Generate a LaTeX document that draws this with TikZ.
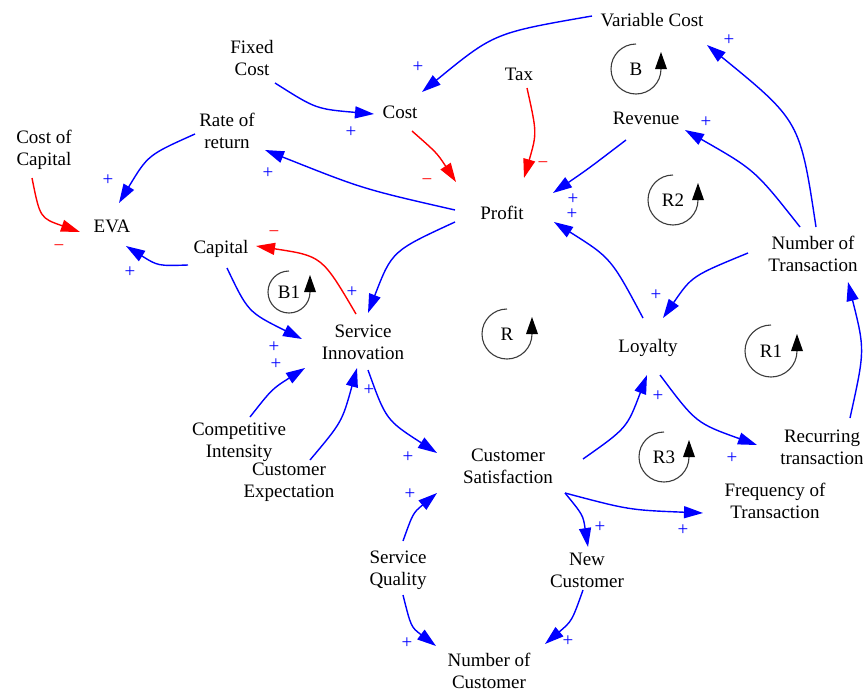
\documentclass[tikz,border=0pt]{standalone}
\usepackage{fontspec}
\setmainfont{Liberation Serif}
\usetikzlibrary{arrows.meta,calc}
\definecolor{lblue}{RGB}{0,0,255}
\definecolor{lred}{RGB}{255,0,0}
\definecolor{loopgray}{RGB}{60,60,60}
\begin{document}
\begin{tikzpicture}[x=1pt,y=-1pt,
  lbl/.style={font=\fontsize{19}{22}\selectfont, align=center, inner sep=0pt},
  plink/.style={draw=lblue, line width=1.4pt, -{Triangle[length=19pt,width=12pt]}},
  nlink/.style={draw=lred, line width=1.4pt, -{Triangle[length=19pt,width=12pt]}},
  psign/.style={text=lblue, font=\fontsize{19}{19}\selectfont, inner sep=0pt},
  nsign/.style={text=lred, font=\fontsize{19}{19}\selectfont, inner sep=0pt},
  loopline/.style={draw=loopgray, line width=1.1pt},
  loophead/.style={fill=black}
]
\useasboundingbox (0,0) rectangle (863,691);

% variables
\node[lbl] (vc) at (652,20) {Variable Cost};
\node[lbl] (fc) at (252,58) {Fixed\\Cost};
\node[lbl] (tax) at (519,74) {Tax};
\node[lbl] (cost) at (400,112) {Cost};
\node[lbl] (rev) at (646,118) {Revenue};
\node[lbl] (ror) at (227,131) {Rate of\\return};
\node[lbl] (coc) at (44,150) {Cost of\\Capital};
\node[lbl] (profit) at (502,213) {Profit};
\node[lbl] (eva) at (112,226) {EVA};
\node[lbl] (cap) at (221,249) {Capital};
\node[lbl] (nt) at (813,254) {Number of\\Transaction};
\node[lbl] (si) at (363,342) {Service\\Innovation};
\node[lbl] (loy) at (648,348) {Loyalty};
\node[lbl] (rt) at (822,447) {Recurring\\transaction};
\node[lbl] (cs) at (508,466) {Customer\\Satisfaction};
\node[lbl] (ft) at (775,501) {Frequency of\\Transaction};
\node[lbl] (ci) at (239,442) {Competitive\\Intensity};
\node[lbl] (ce) at (289,482) {Customer\\Expectation};
\node[lbl] (sq) at (398,570) {Service\\Quality};
\node[lbl] (nc) at (587,570) {New\\Customer};
\node[lbl] (noc) at (489,671) {Number of\\Customer};

% loop markers
\node[lbl] (lB) at (636,69) {B};
\node[lbl] (lR2) at (673,200) {R2};
\node[lbl] (lB1) at (289,292) {B1};
\node[lbl] (lR) at (507,334) {R};
\node[lbl] (lR1) at (771,351) {R1};
\node[lbl] (lR3) at (664,457) {R3};
\foreach \n/\r in {lB/25, lR2/25, lB1/21, lR/25, lR1/26, lR3/25}{
  \draw[loopline] (\n.center) ++(0,-\r) arc[start angle=270, end angle=0, radius=\r];
  \fill[loophead] (\n.center) ++(\r-6,0) -- ++(12,0) -- ++(-6,-17) -- cycle;
}

% connectors
\draw[plink] ($(vc)+(-60,-4)$) .. controls (494,33) .. ($(cost)+(22,-20)$);
\draw[plink] ($(fc)+(23,25)$) .. controls (316,109) .. ($(cost)+(-26,2)$);
\draw[nlink] ($(cost)+(12,19)$) .. controls (437,153) .. ($(profit)+(-46,-31)$);
\draw[nlink] ($(tax)+(8,14)$) .. controls (537,133) .. ($(profit)+(22,-35)$);
\draw[plink] ($(rev)+(-20,22)$) .. controls (588,169) .. ($(profit)+(51,-20)$);
\draw[plink] ($(loy)+(-5,-30)$) .. controls (611,258) .. ($(profit)+(52,9)$);
\draw[plink] ($(profit)+(-47,-3)$) .. controls (363,189) .. ($(ror)+(38,19)$);
\draw[plink] ($(ror)+(-32,3)$) .. controls (148,155) .. ($(eva)+(7,-23)$);
\draw[nlink] ($(coc)+(-12,28)$) .. controls (40,218) .. ($(eva)+(-32,6)$);
\draw[plink] ($(cap)+(-33,16)$) .. controls (158,266) .. ($(eva)+(14,20)$);
\draw[nlink] ($(si)+(-7,-28)$) .. controls (322,256) .. ($(cap)+(35,-3)$);
\draw[plink] ($(profit)+(-47,9)$) .. controls (392,251) .. ($(si)+(5,-29)$);
\draw[plink] ($(cap)+(6,19)$) .. controls (248,312) .. ($(si)+(-61,-3)$);
\draw[plink] ($(ci)+(11,-25)$) .. controls (272,389) .. ($(si)+(-58,26)$);
\draw[plink] ($(ce)+(21,-22)$) .. controls (342,422) .. ($(si)+(-6,26)$);
\draw[plink] ($(si)+(5,28)$) .. controls (386,420) .. ($(cs)+(-71,-13)$);
\draw[plink] ($(sq)+(5,-29)$) .. controls (413,513) .. ($(cs)+(-71,27)$);
\draw[plink] ($(sq)+(5,25)$) .. controls (411,627) .. ($(noc)+(-53,-25)$);
\draw[plink] ($(nc)+(-4,20)$) .. controls (572,621) .. ($(noc)+(56,-27)$);
\draw[plink] ($(cs)+(57,27)$) .. controls (583,515) .. ($(nc)+(1,-23)$);
\draw[plink] ($(cs)+(57,27)$) .. controls (629,510) .. ($(ft)+(-72,12)$);
\draw[plink] ($(cs)+(75,-7)$) .. controls (627,428) .. ($(loy)+(-1,27)$);
\draw[plink] ($(loy)+(12,27)$) .. controls (696,423) .. ($(rt)+(-65,-2)$);
\draw[plink] ($(rt)+(28,-29)$) .. controls (865,350) .. ($(nt)+(35,28)$);
\draw[plink] ($(nt)+(-65,-1)$) .. controls (692,276) .. ($(loy)+(15,-30)$);
\draw[plink] ($(nt)+(-13,-27)$) .. controls (755,170) .. ($(rev)+(39,12)$);
\draw[plink] ($(nt)+(3,-27)$) .. controls (800,121) .. ($(vc)+(55,25)$);

% polarity signs
\node[psign] (s1) at (418,67) {+};
\node[psign] (s2) at (351,132) {+};
\node[nsign] (s3) at (427,182) {−};
\node[nsign] (s4) at (543,165) {−};
\node[psign] (s5) at (573,199) {+};
\node[psign] (s6) at (572,214) {+};
\node[psign] (s7) at (268,173) {+};
\node[psign] (s8) at (108,180) {+};
\node[nsign] (s9) at (59,248) {−};
\node[psign] (s10) at (130,272) {+};
\node[nsign] (s11) at (274,234) {−};
\node[psign] (s12) at (352,292) {+};
\node[psign] (s13) at (274,347) {+};
\node[psign] (s14) at (276,364) {+};
\node[psign] (s15) at (369,390) {+};
\node[psign] (s16) at (408,457) {+};
\node[psign] (s17) at (410,494) {+};
\node[psign] (s18) at (407,643) {+};
\node[psign] (s19) at (568,641) {+};
\node[psign] (s20) at (600,527) {+};
\node[psign] (s21) at (683,530) {+};
\node[psign] (s22) at (658,396) {+};
\node[psign] (s23) at (732,458) {+};
\node[psign] (s24) at (656,295) {+};
\node[psign] (s25) at (706,122) {+};
\node[psign] (s26) at (729,40) {+};
\end{tikzpicture}
\end{document}
